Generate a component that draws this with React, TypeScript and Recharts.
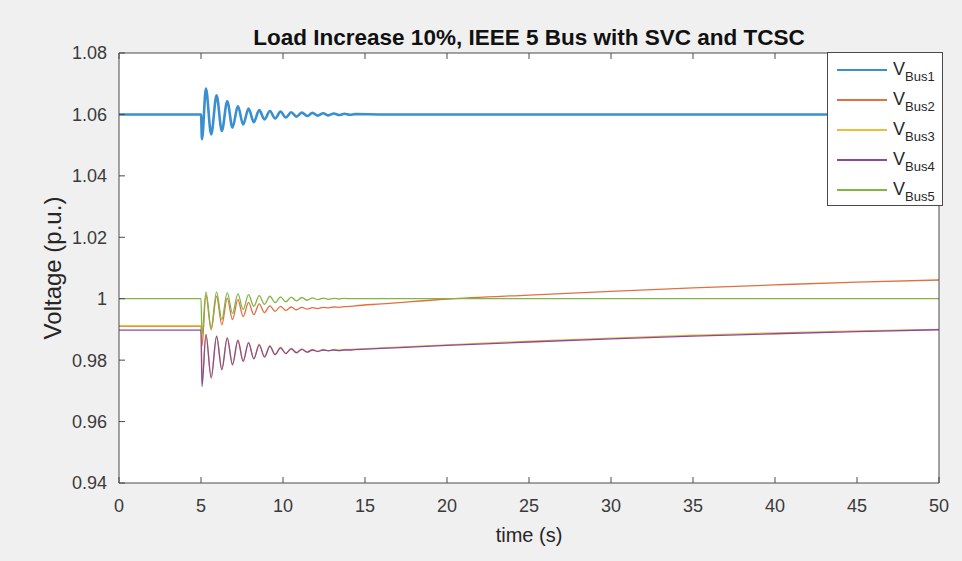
import React from 'react';
import { LineChart, Line, XAxis, YAxis, CartesianGrid, Legend } from 'recharts';

// time samples (s)
const timeS = [0, 5, 5.06, 5.3, 5.62, 5.95, 6.27, 6.6, 6.92, 7.25, 7.57, 7.9, 8.22, 8.55, 8.87, 9.2, 9.52, 9.85, 10.17, 10.5, 10.82, 11.15, 11.47, 11.8, 12.12, 12.45, 12.77, 13.1, 13.42, 13.75, 14.07, 14.4, 16, 20, 25, 30, 35, 40, 45, 50];

const vBus1 = [1.06, 1.06, 1.0519, 1.0684, 1.0535, 1.0662, 1.0546, 1.0643, 1.0557, 1.0627, 1.0567, 1.0619, 1.0575, 1.0614, 1.0584, 1.0611, 1.0587, 1.0609, 1.059, 1.0607, 1.0593, 1.0606, 1.0595, 1.0605, 1.0596, 1.0604, 1.0597, 1.0603, 1.0598, 1.0602, 1.0599, 1.0601, 1.06, 1.06, 1.06, 1.06, 1.06, 1.06, 1.06, 1.06];
const vBus2 = [0.991, 0.991, 0.9845, 1.0013, 0.9899, 1.0008, 0.9915, 1.0002, 0.9932, 0.9997, 0.9942, 0.9988, 0.9948, 0.9983, 0.9955, 0.9977, 0.9959, 0.9975, 0.9962, 0.9973, 0.9964, 0.9972, 0.9966, 0.9971, 0.9968, 0.9972, 0.997, 0.9973, 0.9972, 0.9974, 0.9975, 0.9977, 0.9983, 0.9999, 1.0012, 1.0024, 1.0035, 1.0045, 1.0054, 1.0061];
const vBus3 = [0.9912, 0.9912, 0.973, 0.9885, 0.9745, 0.9879, 0.9771, 0.9873, 0.9787, 0.9866, 0.9798, 0.9858, 0.9806, 0.9852, 0.9812, 0.9847, 0.9819, 0.9842, 0.9822, 0.9839, 0.9825, 0.9837, 0.9827, 0.9835, 0.9829, 0.9835, 0.9831, 0.9835, 0.9833, 0.9835, 0.9835, 0.9836, 0.984, 0.985, 0.9862, 0.9872, 0.9881, 0.9889, 0.9895, 0.99];
const vBus4 = [0.9898, 0.9898, 0.9714, 0.9883, 0.9742, 0.9877, 0.9769, 0.9872, 0.9785, 0.9864, 0.9796, 0.9856, 0.9804, 0.985, 0.981, 0.9845, 0.9818, 0.984, 0.9821, 0.9837, 0.9824, 0.9835, 0.9826, 0.9833, 0.9828, 0.9833, 0.983, 0.9833, 0.9831, 0.9833, 0.9833, 0.9834, 0.9838, 0.9848, 0.9859, 0.9869, 0.9878, 0.9886, 0.9893, 0.9899];
const vBus5 = [1.0, 1.0, 0.988, 1.0022, 0.9905, 1.0022, 0.9932, 1.002, 0.9952, 1.0016, 0.9965, 1.0013, 0.9975, 1.001, 0.9982, 1.0008, 0.9987, 1.0006, 0.999, 1.0005, 0.9993, 1.0004, 0.9995, 1.0003, 0.9997, 1.0002, 0.9998, 1.0001, 0.9999, 1.0001, 1.0, 1.0, 1.0, 1.0, 1.0, 1.0, 1.0, 1.0, 1.0, 1.0];

const seriesKeys = ['bus1', 'bus2', 'bus3', 'bus4', 'bus5'];
const seriesSubs = ['Bus1', 'Bus2', 'Bus3', 'Bus4', 'Bus5'];
const seriesColors = ['#3a8fd0', '#e0703f', '#eebb3c', '#8a4a9c', '#82b545'];
const seriesValues = [vBus1, vBus2, vBus3, vBus4, vBus5];

const xTicks = [0, 5, 10, 15, 20, 25, 30, 35, 40, 45, 50];
const yTicks = [0.94, 0.96, 0.98, 1.0, 1.02, 1.04, 1.06, 1.08];

const titleText = 'Load Increase 10%, IEEE 5 Bus with SVC and TCSC';
const xLabelText = 'time (s)';
const yLabelText = 'Voltage (p.u.)';

const rows = timeS.map((t, i) => {
  const r: Record<string, number> = { t };
  seriesKeys.forEach((k, j) => {
    r[k] = seriesValues[j][i];
  });
  return r;
});

const FONT = '"Liberation Sans", Arial, Helvetica, sans-serif';
const AXIS = '#4a4a4a';
const TICKTXT = '#3a3a3a';

const fmtY = (v: number) => (Math.abs(v - 1) < 1e-9 ? '1' : v.toFixed(2));

const LegendBox = () => (
  <div
    style={{
      width: 114,
      height: 152,
      border: '1px solid #4a4a4a',
      background: '#ffffff',
      fontFamily: FONT,
      position: 'relative',
    }}
  >
    {seriesKeys.map((k, i) => (
      <div
        key={k}
        style={{ position: 'absolute', left: 0, top: 2 + i * 30, height: 30, width: 114 }}
      >
        <div
          style={{
            position: 'absolute',
            left: 9,
            top: 14,
            width: 50,
            height: 2,
            background: seriesColors[i],
          }}
        />
        <div
          style={{
            position: 'absolute',
            left: 65,
            top: 4,
            fontSize: 18,
            lineHeight: '20px',
            color: '#262626',
            whiteSpace: 'nowrap',
          }}
        >
          V<span style={{ fontSize: 13, position: 'relative', top: 6 }}>{seriesSubs[i]}</span>
        </div>
      </div>
    ))}
  </div>
);

export default function App() {
  return (
    <div
      style={{
        position: 'absolute',
        left: 0,
        top: 0,
        width: 962,
        height: 561,
        background: '#f0f0f0',
        fontFamily: FONT,
        overflow: 'hidden',
      }}
    >
      <LineChart width={962} height={561} data={rows} margin={{ top: 23, right: 13, bottom: 28, left: 39 }}>
        <CartesianGrid xAxisId="bottom" yAxisId="left" fill="#ffffff" stroke="none" horizontal={false} vertical={false} />
        <XAxis
          xAxisId="bottom"
          dataKey="t"
          type="number"
          orientation="bottom"
          domain={[0, 50]}
          ticks={xTicks}
          interval={0}
          height={50}
          tickSize={-6}
          tickMargin={22}
          stroke={AXIS}
          tick={{ fill: TICKTXT, fontSize: 18, fontFamily: FONT }}
        />
        <XAxis
          xAxisId="top"
          dataKey="t"
          type="number"
          orientation="top"
          domain={[0, 50]}
          ticks={xTicks}
          interval={0}
          height={30}
          tickSize={-6}
          stroke={AXIS}
          tickFormatter={() => ''}
        />
        <YAxis
          yAxisId="left"
          type="number"
          orientation="left"
          domain={[0.94, 1.08]}
          ticks={yTicks}
          interval={0}
          width={80}
          tickSize={-6}
          tickMargin={18}
          stroke={AXIS}
          tickFormatter={fmtY}
          tick={{ fill: TICKTXT, fontSize: 18, fontFamily: FONT }}
        />
        <YAxis
          yAxisId="right"
          type="number"
          orientation="right"
          domain={[0.94, 1.08]}
          ticks={yTicks}
          interval={0}
          width={10}
          tickSize={-6}
          stroke={AXIS}
          tickFormatter={() => ''}
        />
        {seriesKeys.map((k, i) => (
          <Line
            key={k}
            xAxisId="bottom"
            yAxisId="left"
            dataKey={k}
            name={`V${seriesSubs[i]}`}
            type="monotone"
            stroke={seriesColors[i]}
            strokeWidth={i === 0 ? 2.6 : 1.3}
            dot={false}
            activeDot={false}
            isAnimationActive={false}
          />
        ))}
        <Legend
          layout="vertical"
          align="center"
          verticalAlign="middle"
          wrapperStyle={{ left: 827, top: 52, width: 116, height: 154, right: 'auto', bottom: 'auto' }}
          content={() => <LegendBox />}
        />
      </LineChart>
      <div
        style={{
          position: 'absolute',
          left: 529,
          top: 38,
          transform: 'translate(-50%, -50%)',
          fontSize: 22.5,
          fontWeight: 'bold',
          color: '#111',
          whiteSpace: 'nowrap',
        }}
      >
        {titleText}
      </div>
      <div
        style={{
          position: 'absolute',
          left: 529,
          top: 535,
          transform: 'translate(-50%, -50%)',
          fontSize: 20,
          color: '#262626',
          whiteSpace: 'nowrap',
        }}
      >
        {xLabelText}
      </div>
      <div
        style={{
          position: 'absolute',
          left: 53,
          top: 268,
          transform: 'translate(-50%, -50%) rotate(-90deg)',
          fontSize: 24,
          color: '#262626',
          whiteSpace: 'nowrap',
        }}
      >
        {yLabelText}
      </div>
    </div>
  );
}
